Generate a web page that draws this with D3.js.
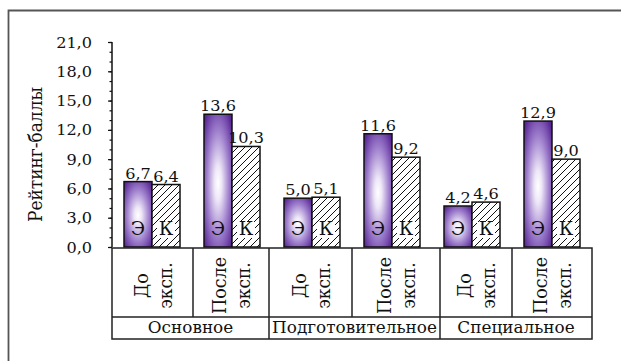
<!DOCTYPE html>
<html>
<head>
<meta charset="utf-8">
<script src="https://cdn.jsdelivr.net/npm/d3@7"></script>
<style>
  html, body { margin: 0; padding: 0; background: #fff; }
  svg { display: block; }
</style>
</head>
<body>
<svg id="chart" width="621" height="361"></svg>
<script>
// Rating points by group, before / after the experiment
const groups = ["Основное", "Подготовительное", "Специальное"];
const periodLines = [["До", "эксп."], ["После", "эксп."]];
const seriesNames = ["Э", "К"];
const valuesE = [6.7, 13.6, 5.0, 11.6, 4.2, 12.9];
const valuesK = [6.4, 10.3, 5.1, 9.2, 4.6, 9.0];
const yTicks = [0, 3, 6, 9, 12, 15, 18, 21];
const yTitle = "Рейтинг-баллы";

// Layout
const W = 621, H = 361;
const plot = { left: 112, right: 592, top: 42, bottom: 247 };
const table = { top: 248, mid: 317, bottom: 339 };
const cellWeights = [81, 76, 83, 88, 72, 80];   // widths of the label-table columns
const SX = 1.04;                                 // horizontal text stretch
const FONT = "DejaVu Serif";
const barW = 28;

const svg = d3.select("#chart");
svg.append("rect").attr("width", W).attr("height", H).attr("fill", "#fff");

const defs = svg.append("defs");
const grad = defs.append("radialGradient").attr("id", "gE")
  .attr("cx", "0.5").attr("cy", "0.52").attr("r", "0.66");
[[0, "#ffffff"], [0.2, "#ede6f7"], [0.6, "#9f80cd"], [1, "#582695"]]
  .forEach(([o, c]) => grad.append("stop").attr("offset", o).attr("stop-color", c));
const hatch = defs.append("pattern").attr("id", "hatchK")
  .attr("patternUnits", "userSpaceOnUse").attr("width", 7).attr("height", 7);
hatch.append("rect").attr("width", 7).attr("height", 7).attr("fill", "#fff");
hatch.append("path").attr("d", "M0,7 L7,0 M-1,1 L1,-1 M6,8 L8,6")
  .attr("stroke", "#111").attr("stroke-width", 1);

// Outer frame (left and top edges)
svg.append("path").attr("d", `M8.5,${H} L8.5,10.5 L${W},10.5`)
  .attr("fill", "none").attr("stroke", "#555").attr("stroke-width", 1.8);

const categories = d3.range(groups.length * periodLines.length);
const x = d3.scaleBand().domain(categories).range([plot.left, plot.right]);
const y = d3.scaleLinear().domain([0, 21]).range([plot.bottom, plot.top]);
const fmt = v => d3.format(".1f")(v).replace(".", ",");

function stext(g, px, py, str, size, anchor, rot) {
  return g.append("text")
    .attr("transform", `translate(${px},${py}) scale(${SX},1)` + (rot ? " rotate(-90)" : ""))
    .attr("text-anchor", anchor)
    .style("font-family", FONT)
    .attr("font-size", size)
    .attr("fill", "#111")
    .text(str);
}

// Y axis: minor ticks every unit, labelled ticks every 3
const yAxisMinor = d3.axisLeft(y).tickValues(d3.range(0, 22)).tickSize(2.5).tickFormat("");
const yAxis = d3.axisLeft(y).tickValues(yTicks).tickSize(4).tickFormat("");
const ga = svg.append("g").attr("transform", `translate(${plot.left},0)`);
ga.call(yAxisMinor);
ga.append("g").call(yAxis);
ga.selectAll(".domain").remove();
ga.selectAll("line").attr("stroke", "#111").attr("stroke-width", 1.2);
svg.append("line").attr("x1", plot.left).attr("x2", plot.left)
  .attr("y1", plot.top).attr("y2", plot.bottom).attr("stroke", "#111").attr("stroke-width", 1.5);
yTicks.forEach(t => stext(svg, 92, y(t) + 5.5, fmt(t), 15.5, "end", false));
stext(svg, 42, (plot.top + plot.bottom) / 2 + 10, yTitle, 17, "middle", true);

// Bars
const gb = svg.append("g");
categories.forEach(i => {
  const c = x(i) + x.bandwidth() / 2;
  const specs = [
    { v: valuesE[i], x0: c - barW, fill: "url(#gE)", name: seriesNames[0] },
    { v: valuesK[i], x0: c, fill: "url(#hatchK)", name: seriesNames[1] }
  ];
  specs.forEach((s, k) => {
    gb.append("rect")
      .attr("x", s.x0).attr("y", y(s.v))
      .attr("width", barW).attr("height", y(0) - y(s.v))
      .attr("fill", s.fill).attr("stroke", "#111").attr("stroke-width", 1.5);
    stext(gb, s.x0 + barW / 2, y(s.v) - 3, fmt(s.v), 15.5, "middle", false);
    if (k === 1) {
      gb.append("rect").attr("x", s.x0 + 5).attr("y", y(0) - 25)
        .attr("width", 18).attr("height", 16).attr("fill", "#fff");
    }
    stext(gb, s.x0 + barW / 2, y(0) - 12, s.name, 18, "middle", false);
  });
});

// Category label table
const totalW = d3.sum(cellWeights);
const edges = [plot.left];
cellWeights.forEach(w => edges.push(edges[edges.length - 1] + w * (plot.right - plot.left) / totalW));
const gt = svg.append("g");
const lineAttr = sel => sel.attr("stroke", "#222").attr("stroke-width", 1.5);
gt.append("rect").attr("x", plot.left).attr("y", table.top)
  .attr("width", plot.right - plot.left).attr("height", table.bottom - table.top)
  .attr("fill", "none").call(lineAttr);
gt.append("line").attr("x1", plot.left).attr("x2", plot.right)
  .attr("y1", table.mid).attr("y2", table.mid).call(lineAttr);
edges.slice(1, -1).forEach((ex, j) => {
  const groupEdge = (j + 1) % periodLines.length === 0;
  gt.append("line").attr("x1", ex).attr("x2", ex)
    .attr("y1", table.top).attr("y2", groupEdge ? table.bottom : table.mid).call(lineAttr);
});
categories.forEach(i => {
  const c = (edges[i] + edges[i + 1]) / 2;
  const lines = periodLines[i % periodLines.length];
  const cy = (table.top + table.mid) / 2 + 3;
  stext(gt, c - 5, cy, lines[0], 17.5, "middle", true);
  stext(gt, c + 19, cy, lines[1], 17, "middle", true);
});
groups.forEach((g, gi) => {
  const a = edges[gi * periodLines.length], b = edges[(gi + 1) * periodLines.length];
  stext(gt, (a + b) / 2, table.bottom - 6, g, 16.2, "middle", false);
});
</script>
</body>
</html>
